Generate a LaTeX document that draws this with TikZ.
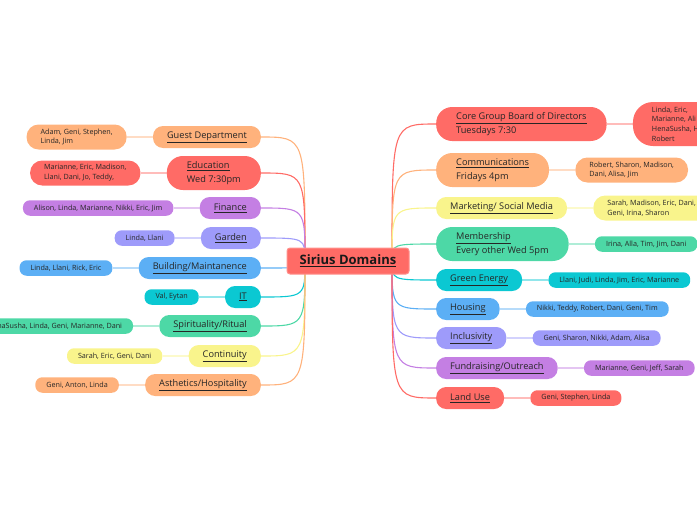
\documentclass[tikz,border=0pt]{standalone}
\usepackage{fontspec}
\setmainfont{Open Sans}
\usetikzlibrary{positioning,backgrounds}

\definecolor{dRed}{HTML}{FF6B66}
\definecolor{dOrange}{HTML}{FFB27C}
\definecolor{dYellow}{HTML}{F9F48C}
\definecolor{dGreen}{HTML}{4DD8A6}
\definecolor{dCyan}{HTML}{0BC8D2}
\definecolor{dBlue}{HTML}{5CAFF5}
\definecolor{dLilac}{HTML}{9E9BFA}
\definecolor{dPurple}{HTML}{C47FE3}

\tikzset{
  topic/.style={fill=#1, rounded corners=10pt, inner xsep=14pt, inner ysep=0pt,
    minimum height=22pt, text=black!85, font=\fontsize{9.2}{14}\selectfont},
  topictwo/.style={topic=#1, rounded corners=16pt, inner xsep=20pt, minimum height=34pt, align=left},
  crew/.style={fill=#1, rounded corners=7pt, inner xsep=11pt, inner ysep=0pt,
    minimum height=15.5pt, text=black!85, font=\fontsize{7.2}{9.8}\selectfont},
  crewtwo/.style={crew=#1, rounded corners=12pt, inner xsep=14pt, minimum height=25pt, align=left},
  branch/.style={draw=#1, line width=1.1pt},
  twig/.style={draw=#1!45!white, line width=1.1pt},
  node distance=26pt
}

\begin{document}
\begin{tikzpicture}[x=1pt, y=1pt]
  \useasboundingbox (0,0) rectangle (697,-520);

  \node[fill=dRed, draw=dRed!75!white, line width=1pt, rounded corners=3pt, minimum width=122pt,
    minimum height=26pt, text=black!90, font=\bfseries\fontsize{13}{15}\selectfont]
    (sirius) at (348,-261) {\underline{Sirius Domains}};
  \coordinate (hubL) at (305,-261);
  \coordinate (hubR) at (392,-261);

  % left side
  \node[topic=dOrange, anchor=east] (guest) at (261,-137) {\underline{Guest Department}};
  \node[topictwo=dRed, anchor=east] (edu) at (261,-173) {\underline{Education}\\Wed 7:30pm};
  \node[topic=dPurple, anchor=east] (finance) at (261,-208) {\underline{Finance}};
  \node[topic=dLilac, anchor=east] (garden) at (261,-238) {\underline{Garden}};
  \node[topic=dBlue, anchor=east] (building) at (261,-268) {\underline{Building/Maintanence}};
  \node[topic=dCyan, anchor=east] (it) at (261,-297) {\underline{IT}};
  \node[topic=dGreen, anchor=east] (spirit) at (261,-326) {\underline{Spirituality/Ritual}};
  \node[topic=dYellow, anchor=east] (cont) at (261,-356) {\underline{Continuity}};
  \node[topic=dOrange, anchor=east] (asth) at (261,-385) {\underline{Asthetics/Hospitality}};

  \node[crewtwo=dOrange, left=of guest] (guestP) {Adam, Geni, Stephen,\\Linda, Jim};
  \node[crewtwo=dRed, left=of edu] (eduP) {Marianne, Eric, Madison,\\Llani, Dani, Jo, Teddy,};
  \node[crew=dPurple, left=of finance] (financeP) {Alison, Linda, Marianne, Nikki, Eric, Jim};
  \node[crew=dLilac, left=of garden] (gardenP) {Linda, Llani};
  \node[crew=dBlue, left=of building] (buildingP) {Linda, Llani, Rick, Eric};
  \node[crew=dCyan, left=of it] (itP) {Val, Eytan};
  \node[crew=dGreen, left=of spirit] (spiritP) {HenaSusha, Linda, Geni, Marianne, Dani};
  \node[crew=dYellow, left=of cont] (contP) {Sarah, Eric, Geni, Dani};
  \node[crew=dOrange, left=of asth] (asthP) {Geni, Anton, Linda};

  % right side
  \node[topictwo=dRed, anchor=west] (core) at (436,-124) {\underline{Core Group Board of Directors}\\Tuesdays 7:30};
  \node[topictwo=dOrange, anchor=west] (comm) at (436,-170) {\underline{Communications}\\Fridays 4pm};
  \node[topic=dYellow, anchor=west] (market) at (436,-208) {\underline{Marketing/ Social Media}};
  \node[topictwo=dGreen, anchor=west] (member) at (436,-244) {\underline{Membership}\\Every other Wed 5pm};
  \node[topic=dCyan, anchor=west] (green) at (436,-280) {\underline{Green Energy}};
  \node[topic=dBlue, anchor=west] (housing) at (436,-309) {\underline{Housing}};
  \node[topic=dLilac, anchor=west] (incl) at (436,-338) {\underline{Inclusivity}};
  \node[topic=dPurple, anchor=west] (fund) at (436,-368) {\underline{Fundraising/Outreach}};
  \node[topic=dRed, anchor=west] (land) at (436,-398) {\underline{Land Use}};

  \node[crewtwo=dRed, right=of core, rounded corners=20pt, minimum height=44pt, inner xsep=19pt,
    font=\fontsize{7.2}{9.6}\selectfont]
    (coreP) {Linda, Eric,\\Marianne, Ali\\HenaSusha, H\\Robert};
  \node[crewtwo=dOrange, right=of comm] (commP) {Robert, Sharon, Madison,\\Dani, Alisa, Jim};
  \node[crewtwo=dYellow, right=of market] (marketP) {Sarah, Madison, Eric, Dani,\\Geni, Irina, Sharon};
  \node[crew=dGreen, right=of member] (memberP) {Irina, Alla, Tim, Jim, Dani};
  \node[crew=dCyan, right=of green] (greenP) {Llani, Judi, Linda, Jim, Eric, Marianne};
  \node[crew=dBlue, right=of housing] (housingP) {Nikki, Teddy, Robert, Dani, Geni, Tim};
  \node[crew=dLilac, right=of incl] (inclP) {Geni, Sharon, Nikki, Adam, Alisa};
  \node[crew=dPurple, right=of fund] (fundP) {Marianne, Geni, Jeff, Sarah};
  \node[crew=dRed, right=of land] (landP) {Geni, Stephen, Linda};

  \begin{scope}[on background layer]
    % branches from the centre
    \draw[branch=dOrange] (hubL) .. controls (hubL |- guest.east) .. (guest.east);
    \draw[branch=dRed] (hubL) .. controls (hubL |- edu.east) .. (edu.east);
    \draw[branch=dPurple] (hubL) .. controls (hubL |- finance.east) .. (finance.east);
    \draw[branch=dLilac] (hubL) .. controls (hubL |- garden.east) .. (garden.east);
    \draw[branch=dBlue] (hubL) .. controls (hubL |- building.east) .. (building.east);
    \draw[branch=dCyan] (hubL) .. controls (hubL |- it.east) .. (it.east);
    \draw[branch=dGreen] (hubL) .. controls (hubL |- spirit.east) .. (spirit.east);
    \draw[branch=dYellow] (hubL) .. controls (hubL |- cont.east) .. (cont.east);
    \draw[branch=dOrange] (hubL) .. controls (hubL |- asth.east) .. (asth.east);

    \draw[branch=dRed] (hubR) .. controls (hubR |- core.west) .. (core.west);
    \draw[branch=dOrange] (hubR) .. controls (hubR |- comm.west) .. (comm.west);
    \draw[branch=dYellow] (hubR) .. controls (hubR |- market.west) .. (market.west);
    \draw[branch=dGreen] (hubR) .. controls (hubR |- member.west) .. (member.west);
    \draw[branch=dCyan] (hubR) .. controls (hubR |- green.west) .. (green.west);
    \draw[branch=dBlue] (hubR) .. controls (hubR |- housing.west) .. (housing.west);
    \draw[branch=dLilac] (hubR) .. controls (hubR |- incl.west) .. (incl.west);
    \draw[branch=dPurple] (hubR) .. controls (hubR |- fund.west) .. (fund.west);
    \draw[branch=dRed] (hubR) .. controls (hubR |- land.west) .. (land.west);

    % twigs to the people
    \draw[twig=dOrange] (guest) -- (guestP);
    \draw[twig=dRed] (edu) -- (eduP);
    \draw[twig=dPurple] (finance) -- (financeP);
    \draw[twig=dLilac] (garden) -- (gardenP);
    \draw[twig=dBlue] (building) -- (buildingP);
    \draw[twig=dCyan] (it) -- (itP);
    \draw[twig=dGreen] (spirit) -- (spiritP);
    \draw[twig=dYellow] (cont) -- (contP);
    \draw[twig=dOrange] (asth) -- (asthP);

    \draw[twig=dRed] (core) -- (coreP);
    \draw[twig=dOrange] (comm) -- (commP);
    \draw[twig=dYellow] (market) -- (marketP);
    \draw[twig=dGreen] (member) -- (memberP);
    \draw[twig=dCyan] (green) -- (greenP);
    \draw[twig=dBlue] (housing) -- (housingP);
    \draw[twig=dLilac] (incl) -- (inclP);
    \draw[twig=dPurple] (fund) -- (fundP);
    \draw[twig=dRed] (land) -- (landP);
  \end{scope}
\end{tikzpicture}
\end{document}
